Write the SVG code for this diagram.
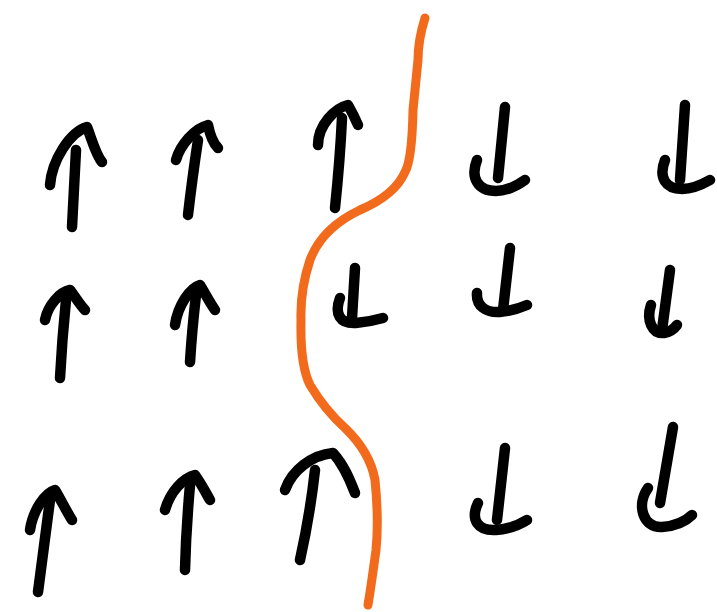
<svg xmlns="http://www.w3.org/2000/svg" width="717" height="612" viewBox="0 0 717 612">
<style>
.a{fill:none;stroke:#000;stroke-width:10.5;stroke-linecap:round;stroke-linejoin:round}
.o{fill:none;stroke:#F26B1D;stroke-width:9;stroke-linecap:round;stroke-linejoin:round}
</style>
<rect width="717" height="612" fill="#fff"/>
<g id="up-arrows">
<g id="up1"><path class="a" d="M72,227 L76,150"/><path class="a" d="M50,185 C52,160 70,132 87,127 C92,140 96,155 102,162"/></g>
<g id="up2"><path class="a" d="M188,215 Q192,180 198,140"/><path class="a" d="M176,160 C180,145 195,128 208,125 C210,135 213,143 218,148"/></g>
<g id="up3"><path class="a" d="M335,208 Q340,160 342,118"/><path class="a" d="M318,145 C318,125 335,108 348,105 C352,112 355,118 358,125"/></g>
<g id="up4"><path class="a" d="M60,378 Q62,340 66,300"/><path class="a" d="M45,320 C48,305 60,292 70,290 C76,298 80,305 85,310"/></g>
<g id="up5"><path class="a" d="M190,362 Q192,330 196,295"/><path class="a" d="M175,325 C178,305 190,288 200,285 C206,295 210,303 215,310"/></g>
<g id="up6"><path class="a" d="M38,592 Q44,545 50,500"/><path class="a" d="M30,530 C33,510 45,493 55,490 C62,502 67,512 72,520"/></g>
<g id="up7"><path class="a" d="M185,570 Q186,530 190,485"/><path class="a" d="M165,510 C170,492 183,478 195,475 C202,485 206,493 210,500"/></g>
<g id="up8"><path class="a" d="M300,560 Q310,515 315,470"/><path class="a" d="M285,490 C292,470 312,455 333,453 C344,465 350,480 355,493"/></g>
</g>
<g id="down-hooks">
<g id="dn1"><path class="a" d="M505,107 L498,178"/><path class="a" d="M477,160 C470,178 478,191 496,191 C508,191 518,185 525,180"/></g>
<g id="dn2"><path class="a" d="M685,105 L680,180"/><path class="a" d="M665,160 C658,178 666,189 682,189 C694,189 703,184 710,180"/></g>
<g id="dn3"><path class="a" d="M355,268 L352,318"/><path class="a" d="M340,298 C334,314 340,324 356,323 C368,322 376,320 383,318"/></g>
<g id="dn4"><path class="a" d="M510,248 L503,310"/><path class="a" d="M477,293 C476,306 486,313 500,312 C512,311 520,308 527,305"/></g>
<g id="dn5"><path class="a" d="M670,270 L662,330"/><path class="a" d="M651,305 C646,320 652,334 664,333 C670,332 674,329 677,325"/></g>
<g id="dn6"><path class="a" d="M505,448 L497,520"/><path class="a" d="M478,503 C470,520 478,531 496,530 C510,529 519,525 527,520"/></g>
<g id="dn7"><path class="a" d="M673,427 L660,503"/><path class="a" d="M648,488 C636,505 643,528 662,527 C676,526 686,521 692,515"/></g>
</g>
<g id="boundary">
<path class="o" d="M425,18 Q418,40 418,60 L413,110 Q412,160 405,172 Q395,195 360,210 Q322,228 310,260 Q300,290 301,320 Q300,365 310,385 Q325,410 345,428 Q370,452 375,480 Q379,520 376,550 Q372,580 368,605"/>
</g>
</svg>
